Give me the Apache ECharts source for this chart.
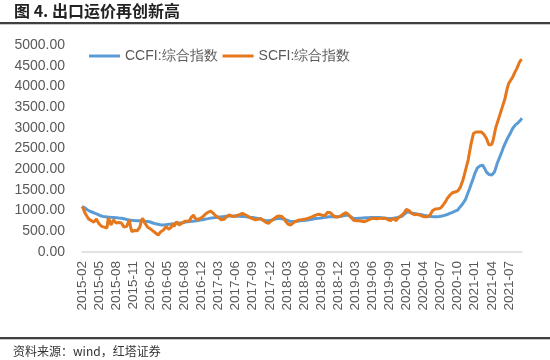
<!DOCTYPE html>
<html><head><meta charset="utf-8">
<script src="https://cdn.jsdelivr.net/npm/echarts@6/dist/echarts.min.js"></script>
<style>html,body{margin:0;padding:0;background:#fff}#c{width:550px;height:360px}</style>
</head><body><div id="c"></div>
<script>
// Tick labels shown on x axis (one every 13 weekly points)
const tickLabels = ['2015-02','2015-05','2015-08','2015-11','2016-02','2016-05','2016-08','2016-12',
  '2017-03','2017-06','2017-09','2017-12','2018-03','2018-06','2018-09','2018-12','2019-03','2019-06',
  '2019-09','2020-01','2020-04','2020-07','2020-10','2021-01','2021-04','2021-07'];
const yTicks = [0,500,1000,1500,2000,2500,3000,3500,4000,4500,5000];
const seriesNames = ['CCFI:综合指数','SCFI:综合指数'];

// CCFI composite index, weekly (rows = 13 weeks each)
const ccfi = [
 1094,1085,1070,1050,1020,1000,985,970,960,950,935,925,910,
 880,875,869,860,855,850,845,840,838,837,836,835,830,
 830,825,820,818,815,812,805,795,785,778,773,770,766,
 762,760,757,757,758,757,756,757,752,745,740,735,732,
 725,715,700,690,680,676,670,662,655,652,652,655,660,
 665,668,672,676,680,685,690,695,698,700,703,706,708,
 715,722,728,732,736,740,744,748,750,755,760,765,770,
 773,780,788,795,800,806,813,818,822,826,830,835,838,
 845,848,850,853,856,860,864,867,869,870,870,870,869,
 868,866,865,864,862,860,858,855,852,848,844,840,837,
 833,828,822,818,813,805,795,785,775,765,757,758,760,
 765,770,775,785,795,805,810,813,812,805,798,792,789,
 770,755,745,738,735,732,735,740,745,750,757,760,763,
 765,768,770,773,778,785,792,798,803,808,811,813,815,
 820,826,832,837,842,846,850,852,853,853,853,853,853,
 853,856,860,866,872,880,888,894,885,865,840,820,813,
 812,812,813,813,815,818,820,822,825,828,830,833,835,
 837,836,835,834,833,832,830,828,825,822,818,815,813,
 810,810,812,815,820,825,832,840,848,856,870,895,930,
 974,970,960,950,940,934,928,922,918,914,910,905,900,
 890,885,878,872,866,860,856,853,853,853,853,855,856,
 860,868,876,885,894,905,918,932,945,958,970,985,1000,
 1010,1030,1094,1130,1170,1210,1270,1360,1440,1520,1610,1700,1790,
 1890,1960,2030,2060,2080,2095,2100,2060,1990,1930,1890,1870,1860,
 1860,1870,1930,2020,2130,2210,2290,2370,2450,2540,2610,2680,2750,
 2790,2860,2930,2990,3030,3070,3100,3120,3160,3190,3230
];
// SCFI composite index, weekly
const scfi = [
 1100,1050,960,900,850,800,773,760,740,720,760,800,730,
 680,640,620,612,600,590,580,821,760,652,700,773,740,
 700,692,710,732,700,650,600,580,620,700,773,600,491,
 500,520,531,510,491,600,720,813,760,692,650,600,580,
 560,530,510,491,460,430,410,440,491,510,531,560,612,
 580,550,531,600,692,612,640,732,690,652,670,692,720,
 740,773,740,700,760,830,870,894,820,773,780,800,810,
 820,850,890,920,934,960,998,990,960,934,900,870,853,
 830,800,780,773,790,813,850,880,894,870,865,853,860,
 870,885,894,900,915,934,920,905,894,870,850,830,813,
 800,790,780,773,790,805,813,790,760,732,715,700,692,
 720,750,773,800,837,850,860,869,865,858,853,800,740,
 692,670,660,652,690,710,732,745,760,773,775,780,785,
 789,795,805,813,825,838,850,869,880,895,905,918,910,
 900,885,870,880,920,960,974,950,918,890,860,845,837,
 845,860,875,894,915,935,950,930,900,869,830,790,765,
 757,757,750,757,760,745,738,732,745,760,775,789,800,
 813,820,810,815,805,813,818,812,808,813,815,800,780,
 732,760,790,813,780,757,800,830,853,880,910,934,980,
 1030,1020,1000,974,930,894,900,918,910,900,894,880,865,
 853,850,850,853,870,894,950,1000,1014,1040,1055,1045,1030,
 1060,1100,1135,1180,1230,1290,1336,1370,1400,1432,1445,1450,1457,
 1470,1500,1560,1650,1740,1850,1980,2100,2220,2400,2580,2720,2860,
 2880,2900,2910,2900,2895,2900,2880,2840,2790,2740,2650,2580,2570,
 2600,2700,2850,3000,3100,3200,3300,3400,3500,3600,3700,3850,3980,
 4080,4120,4180,4230,4300,4370,4430,4500,4580,4630,4650
];

// Build weekly category list: each tick label followed by its 12 intermediate weeks
const categories = [];
for (let i = 0; i < ccfi.length; i++) {
  const k = Math.floor(i / 13), j = i % 13;
  categories.push(j === 0 ? tickLabels[k] : tickLabels[k] + '#' + j);
}

const chart = echarts.init(document.getElementById('c'), null, {renderer: 'canvas'});
const font = '"Liberation Sans", Arial, sans-serif';
chart.setOption({
  animation: false,
  backgroundColor: '#fff',
  grid: {left: 82, right: 28, top: 45, bottom: 108, containLabel: false},
  legend: {
    left: 84, top: 44, itemWidth: 31, itemHeight: 3, itemGap: 5, icon: 'rect',
    textStyle: {fontSize: 14, color: '#595959', fontFamily: font},
    data: seriesNames
  },
  xAxis: {
    type: 'category', data: categories, boundaryGap: false,
    axisLine: {lineStyle: {color: '#d9d9d9', width: 1.5}},
    axisTick: {show: false},
    axisLabel: {rotate: 90, interval: 12, fontSize: 13.5, color: '#595959', fontFamily: font, margin: 9,
      formatter: v => v.split('#')[0]}
  },
  yAxis: {
    type: 'value', min: yTicks[0], max: yTicks[yTicks.length-1], interval: yTicks[1]-yTicks[0],
    splitLine: {show: false}, axisLine: {show: false}, axisTick: {show: false},
    axisLabel: {fontSize: 14, color: '#595959', fontFamily: font, margin: 17,
      formatter: v => v.toFixed(2)}
  },
  series: [
    {name: seriesNames[0], type: 'line', data: ccfi, showSymbol: false, symbol: 'none',
     lineStyle: {color: '#5B9BD5', width: 3}, itemStyle: {color: '#5B9BD5'}},
    {name: seriesNames[1], type: 'line', data: scfi, showSymbol: false, symbol: 'none',
     lineStyle: {color: '#E5781C', width: 3}, itemStyle: {color: '#E5781C'}}
  ],
  graphic: [
    {type: 'text', left: 14, top: 3, style: {text: '图 4. 出口运价再创新高',
      fill: '#222', font: 'bold 16px "Noto Sans CJK SC", sans-serif'}},
    {type: 'rect', shape: {x: 0, y: 22, width: 550, height: 2}, style: {fill: '#404040'}},
    {type: 'rect', shape: {x: 0, y: 24, width: 550, height: 1}, style: {fill: '#c8c8c8'}},
    {type: 'rect', shape: {x: 0, y: 337, width: 550, height: 2}, style: {fill: '#404040'}},
    {type: 'rect', shape: {x: 0, y: 339, width: 550, height: 1}, style: {fill: '#c8c8c8'}},
    {type: 'text', left: 13, top: 345, style: {text: '资料来源：wind，红塔证券',
      font: '12px "Noto Sans CJK SC", sans-serif', fill: '#333'}}
  ]
});
</script></body></html>
